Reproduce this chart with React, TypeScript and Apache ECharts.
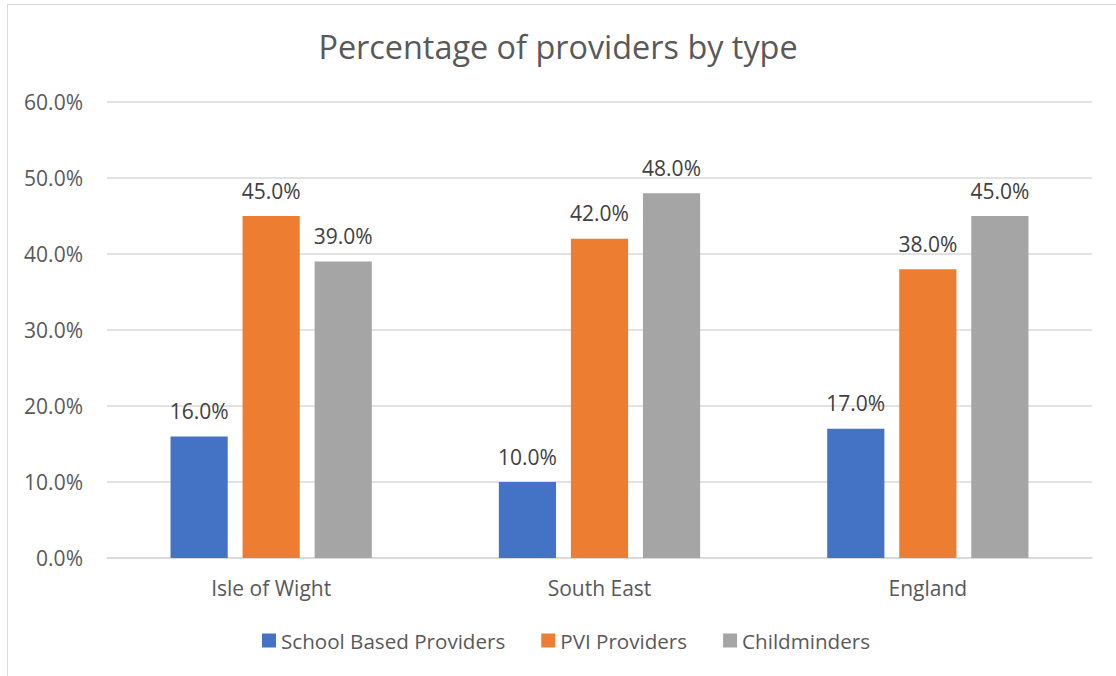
import React, { useEffect, useRef } from "react";
import * as echarts from "echarts";

const categories = ["Isle of Wight", "South East", "England"];
const schoolBased = [16.0, 10.0, 17.0];
const pviProviders = [45.0, 42.0, 38.0];
const childminders = [39.0, 48.0, 45.0];
const seriesNames = ["School Based Providers", "PVI Providers", "Childminders"];
const colors = ["#4472C4", "#ED7D31", "#A5A5A5"];

const FONT = "Open Sans";

export default function App() {
  const ref = useRef<HTMLDivElement>(null);
  useEffect(() => {
    if (!ref.current) return;
    const chart = echarts.init(ref.current, undefined, { renderer: "svg" });
    const values = [schoolBased, pviProviders, childminders];
    chart.setOption({
      animation: false,
      backgroundColor: "#ffffff",
      title: {
        text: "Percentage of providers by type",
        left: "center",
        top: 25,
        textStyle: { fontFamily: FONT, fontSize: 32.4, fontWeight: "normal", color: "#595959" },
      },
      graphic: [
        {
          type: "rect",
          shape: { x: 7.5, y: 4.5, width: 1200, height: 800 },
          style: { fill: "none", stroke: "#d9d9d9", lineWidth: 1 },
          silent: true,
        },
      ],
      legend: {
        bottom: 20,
        left: 257,
        itemWidth: 14,
        itemHeight: 14,
        itemGap: 36,
        icon: "rect",
        textStyle: { fontFamily: FONT, fontSize: 20.6, color: "#595959" },
        data: seriesNames,
      },
      grid: { left: 107, right: 24, top: 102, bottom: 118, containLabel: false },
      xAxis: {
        type: "category",
        data: categories,
        axisLine: { lineStyle: { color: "#d9d9d9", width: 1.5 } },
        axisTick: { show: false },
        axisLabel: { fontFamily: FONT, fontSize: 21, color: "#595959", margin: 19 },
      },
      yAxis: {
        type: "value",
        min: 0,
        max: 60,
        interval: 10,
        axisLine: { show: false },
        axisTick: { show: false },
        splitLine: { lineStyle: { color: "#d9d9d9", width: 1.5 } },
        axisLabel: {
          fontFamily: FONT,
          fontSize: 21,
          color: "#595959",
          margin: 24,
          formatter: (v: number) => v.toFixed(1) + "%",
        },
      },
      series: seriesNames.map((name, i) => ({
        name,
        type: "bar",
        data: values[i],
        barGap: "26%",
        barCategoryGap: "38.7%",
        itemStyle: { color: colors[i] },
        label: {
          show: true,
          position: "top",
          distance: 15,
          fontFamily: FONT,
          fontSize: 21,
          color: "#404040",
          formatter: (p: any) => Number(p.value).toFixed(1) + "%",
        },
      })),
    });
    return () => chart.dispose();
  }, []);
  return (
    <div
      ref={ref}
      style={{ position: "absolute", left: 0, top: 0, width: 1116, height: 676 }}
    />
  );
}
